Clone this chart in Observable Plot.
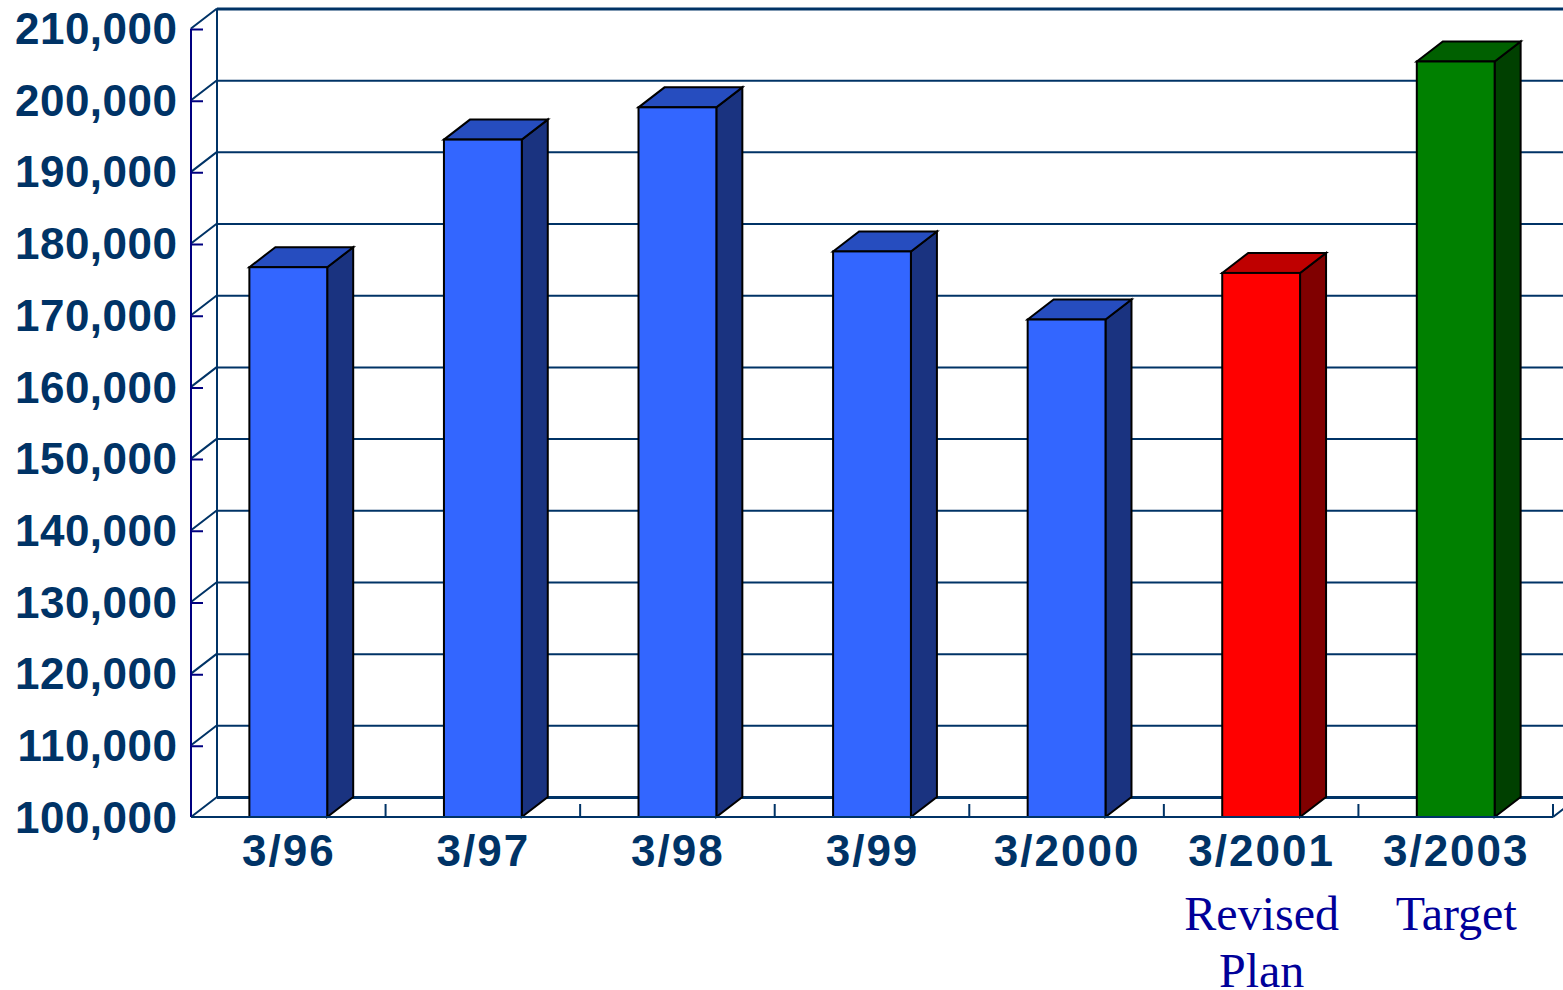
<!DOCTYPE html>
<html>
<head>
<meta charset="utf-8">
<script src="https://cdn.jsdelivr.net/npm/d3@7"></script>
<script src="https://cdn.jsdelivr.net/npm/@observablehq/plot@0.6"></script>
<style>
  html, body { margin: 0; padding: 0; background: #fff; overflow: hidden; }
  svg { display: block; }
</style>
</head>
<body>
<div id="chart"></div>
<script>
// Fiscal period-end labels, one per bar
const periods = ["3/96", "3/97", "3/98", "3/99", "3/2000", "3/2001", "3/2003"];
// Value at each period end
const values = [176700, 194500, 199000, 178900, 169400, 175900, 205400];
// Status of each figure
const kinds = ["actual", "actual", "actual", "actual", "actual", "plan", "target"];
// Second line of text under the plan and target periods
const notes = ["", "", "", "", "", "Revised\nPlan", "Target"];
// Value axis ticks
const yTicks = [100000, 110000, 120000, 130000, 140000, 150000, 160000, 170000, 180000, 190000, 200000, 210000];

const baseline = 100000;
const bars = periods.map((period, i) => ({period, value: values[i], kind: kinds[i], note: notes[i]}));

// Shades for the three visible faces of each kind of column
const frontShade = {actual: "#3366ff", plan: "#ff0000", target: "#008000"};
const topShade = {actual: "#264dbf", plan: "#bf0000", target: "#006000"};
const sideShade = {actual: "#1a3380", plan: "#800000", target: "#004000"};

// Oblique projection: the back wall sits this many pixels right of and above the front plane
const depthX = 26;
const depthY = -20;

const ink = "#003366";
const axisInk = "#000080";
const labelFont = {fontFamily: "'Liberation Sans'", fontWeight: 700, fontSize: 44};

// Builds a custom layer whose geometry is derived from the plot's scales
const pathLayer = (attrs, build) => (index, scales, _values, dimensions) => {
  const g = d3.create("svg:g");
  for (const [k, v] of Object.entries(attrs)) g.attr(k, v);
  build(g, scales, dimensions);
  return g.node();
};

const poly = (pts) => "M" + pts.map((p) => p.join(",")).join("L") + "Z";
const seg = (a, b) => `M${a[0]},${a[1]}L${b[0]},${b[1]}`;

// Side and top faces of the columns
const depthFaces = Plot.barY(bars, {
  x: "period",
  y1: () => baseline,
  y2: "value",
  render: pathLayer({stroke: "#000", "stroke-width": 2, "stroke-linejoin": "miter"}, (g, {x, y}) => {
    for (const d of bars) {
      const x1 = x(d.period);
      const x2 = x1 + x.bandwidth();
      const yv = y(d.value);
      const y0 = y(baseline);
      g.append("path").attr("fill", sideShade[d.kind]).attr("d", poly([
        [x2, yv], [x2 + depthX, yv + depthY], [x2 + depthX, y0 + depthY], [x2, y0]
      ]));
      g.append("path").attr("fill", topShade[d.kind]).attr("d", poly([
        [x1, yv], [x1 + depthX, yv + depthY], [x2 + depthX, yv + depthY], [x2, yv]
      ]));
    }
  })
});

// Left wall: value axis line, its short ticks, and the slanted links to the back wall
const leftWall = Plot.ruleY(yTicks, {
  render: pathLayer({fill: "none"}, (g, {y}, {marginLeft}) => {
    const x0 = marginLeft;
    const yTop = y(yTicks[yTicks.length - 1]);
    const yBottom = y(baseline);
    g.append("path").attr("stroke", ink).attr("stroke-width", 2)
      .attr("d", yTicks.map((t) => seg([x0, y(t)], [x0 + depthX, y(t) + depthY])).join("")
        + seg([x0 + depthX, yTop + depthY], [x0 + depthX, yBottom + depthY]));
    g.append("path").attr("stroke", axisInk).attr("stroke-width", 2)
      .attr("d", seg([x0, yTop], [x0, yBottom])
        + yTicks.slice(1).map((t) => seg([x0, y(t) + 1], [x0 + 12, y(t) + 1])).join(""));
  })
});

// Front edge of the floor with its category separators
const floorFront = Plot.ruleY([baseline], {
  render: pathLayer({fill: "none", stroke: ink, "stroke-width": 2}, (g, {x, y}, {marginLeft, width, marginRight}) => {
    const y0 = y(baseline);
    const right = width - marginRight;
    const step = x.step();
    let d = seg([marginLeft, y0], [right, y0]) + seg([right, y0], [right + depthX, y0 + depthY]);
    periods.forEach((_, i) => {
      const xi = marginLeft + step * (i + 1);
      d += seg([xi, y0], [xi, y0 - 13]);
    });
    g.append("path").attr("d", d);
  })
});

const chart = Plot.plot({
  width: 1563,
  height: 990,
  marginTop: 28.5,
  marginBottom: 173,
  marginLeft: 191,
  marginRight: 10,
  style: {background: "#fff", overflow: "hidden"},
  x: {domain: periods, paddingInner: 0.6, paddingOuter: 0.3, round: false, align: 0.5, axis: null},
  y: {domain: [baseline, 210000], axis: null},
  marks: [
    // Back wall gridlines
    Plot.ruleY(yTicks.slice(1, -1), {dx: depthX, dy: depthY, stroke: ink, strokeWidth: 2}),
    Plot.ruleY([baseline, 210000], {dx: depthX, dy: depthY, stroke: ink, strokeWidth: 3}),
    leftWall,
    depthFaces,
    // Front faces of the columns
    Plot.barY(bars, {
      x: "period",
      y1: () => baseline,
      y2: "value",
      fill: (d) => frontShade[d.kind],
      stroke: "#000",
      strokeWidth: 2
    }),
    floorFront,
    Plot.axisY({
      ticks: yTicks,
      tickFormat: d3.format(",d"),
      tickSize: 0,
      tickPadding: 14,
      fill: ink,
      dy: 1,
      label: null,
      ...labelFont
    }),
    Plot.axisX({
      tickSize: 0,
      tickPadding: 17,
      fill: ink,
      label: null,
      ...labelFont
    }),
    // Notes below the plan and target periods
    Plot.text(bars.filter((d) => d.note), {
      x: "period",
      y: () => baseline,
      text: "note",
      dy: 72,
      lineHeight: 1.19,
      lineAnchor: "top",
      textAnchor: "middle",
      fill: "#000099",
      fontFamily: "'Liberation Serif'",
      fontSize: 48
    })
  ]
});

// Open up the tick label lettering a little
d3.select(chart).selectAll('[aria-label="x-axis tick label"] text').style("letter-spacing", "2px");
d3.select(chart).selectAll('[aria-label="y-axis tick label"] text').style("letter-spacing", "0.5px");

document.getElementById("chart").append(chart);
</script>
</body>
</html>
